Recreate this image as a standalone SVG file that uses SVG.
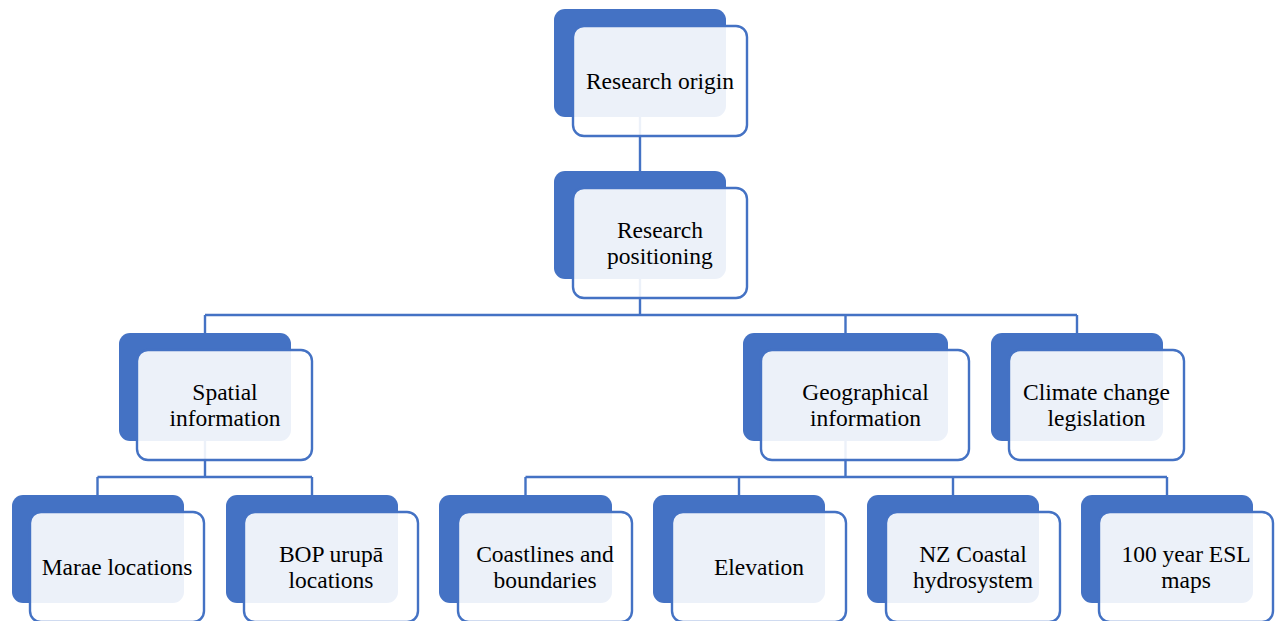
<svg xmlns="http://www.w3.org/2000/svg" width="1275" height="621" viewBox="0 0 1275 621">
<style>
.back{fill:#4472C4;}
.front{fill:#FFFFFF;fill-opacity:0.9;stroke:#4472C4;stroke-width:2.4;}
.conn{stroke:#4472C4;stroke-width:2.4;fill:none;}
text{font-family:"Liberation Serif","Times New Roman",serif;font-size:23.5px;fill:#000;text-anchor:middle;}
</style>
<rect width="1275" height="621" fill="#FFFFFF"/>
<g id="connectors" class="conn">
<path d="M640,117V171M640,279V315M205,315H1077M205,315V333M845.5,315V333M1077,315V333"/>
<path d="M205,441V477M97.5,477H312M97.5,477V495M312,477V495"/>
<path d="M845.5,441V477M525.5,477H1167M525.5,477V495M739,477V495M953,477V495M1167,477V495"/>
</g>
<g id="n-origin">
<rect class="back" x="554" y="9" width="172" height="108" rx="11"/>
<rect class="front" x="573" y="26" width="174" height="110" rx="11"/>
<text x="660" y="89">Research origin</text>
</g>
<g id="n-positioning">
<rect class="back" x="554" y="171" width="172" height="108" rx="11"/>
<rect class="front" x="573" y="188" width="174" height="110" rx="11"/>
<text x="660" y="238">Research</text>
<text x="660" y="264">positioning</text>
</g>
<g id="n-spatial">
<rect class="back" x="119" y="333" width="172" height="108" rx="11"/>
<rect class="front" x="137" y="350" width="175" height="110" rx="11"/>
<text x="225" y="400">Spatial</text>
<text x="225" y="426">information</text>
</g>
<g id="n-geo">
<rect class="back" x="743" y="333" width="205" height="108" rx="11"/>
<rect class="front" x="761" y="350" width="208" height="110" rx="11"/>
<text x="865.5" y="400">Geographical</text>
<text x="865.5" y="426">information</text>
</g>
<g id="n-climate">
<rect class="back" x="991" y="333" width="172" height="108" rx="11"/>
<rect class="front" x="1009" y="350" width="175" height="110" rx="11"/>
<text x="1096.5" y="400">Climate change</text>
<text x="1096.5" y="426">legislation</text>
</g>
<g id="n-marae">
<rect class="back" x="12" y="495" width="172" height="108" rx="11"/>
<rect class="front" x="30" y="512" width="174" height="110" rx="11"/>
<text x="117" y="575">Marae locations</text>
</g>
<g id="n-bop">
<rect class="back" x="226" y="495" width="172" height="108" rx="11"/>
<rect class="front" x="244" y="512" width="174" height="110" rx="11"/>
<text x="331" y="562">BOP urupā</text>
<text x="331" y="588">locations</text>
</g>
<g id="n-coast">
<rect class="back" x="439" y="495" width="173" height="108" rx="11"/>
<rect class="front" x="458" y="512" width="174" height="110" rx="11"/>
<text x="545" y="562">Coastlines and</text>
<text x="545" y="588">boundaries</text>
</g>
<g id="n-elev">
<rect class="back" x="653" y="495" width="172" height="108" rx="11"/>
<rect class="front" x="672" y="512" width="174" height="110" rx="11"/>
<text x="759" y="575">Elevation</text>
</g>
<g id="n-nz">
<rect class="back" x="867" y="495" width="172" height="108" rx="11"/>
<rect class="front" x="886" y="512" width="174" height="110" rx="11"/>
<text x="973" y="562">NZ Coastal</text>
<text x="973" y="588">hydrosystem</text>
</g>
<g id="n-esl">
<rect class="back" x="1081" y="495" width="172" height="108" rx="11"/>
<rect class="front" x="1099" y="512" width="174" height="110" rx="11"/>
<text x="1186" y="562">100 year ESL</text>
<text x="1186" y="588">maps</text>
</g>
</svg>
